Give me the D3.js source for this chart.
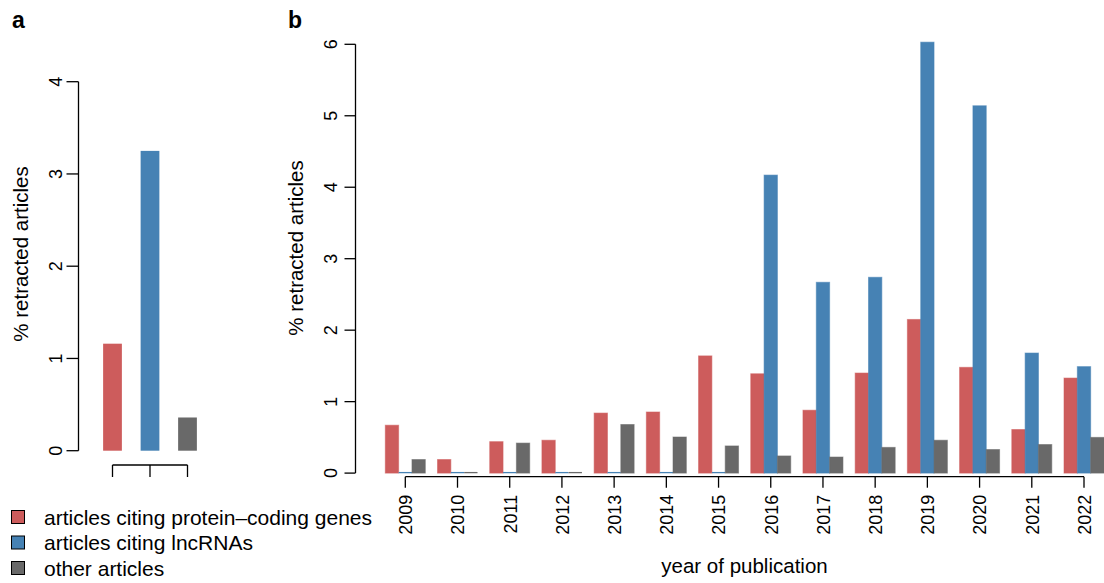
<!DOCTYPE html>
<html>
<head>
<meta charset="utf-8">
<script src="https://cdn.jsdelivr.net/npm/d3@7"></script>
<style>
  html, body { margin: 0; padding: 0; background: #fff; }
  svg { display: block; font-family: "Liberation Sans", Arial, Helvetica, sans-serif; }
</style>
</head>
<body>
<svg id="fig" width="1104" height="583"></svg>
<script>
// Retraction rates: overall (a) and by year of publication (b)
const groups = ["protein", "lncRNA", "other"];
const groupLabels = ["articles citing protein\u2013coding genes", "articles citing lncRNAs", "other articles"];
const groupColors = ["#CD5C5C", "#4682B4", "#696969"];

// panel a: overall % retracted
const overallValues = [1.16, 3.25, 0.36];

// panel b: % retracted per publication year
const years = ["2009", "2010", "2011", "2012", "2013", "2014", "2015", "2016", "2017", "2018", "2019", "2020", "2021", "2022"];
const proteinByYear = [0.67, 0.19, 0.44, 0.46, 0.84, 0.855, 1.64, 1.39, 0.88, 1.40, 2.15, 1.48, 0.61, 1.33];
const lncRNAByYear  = [0, 0, 0, 0, 0, 0, 0, 4.17, 2.67, 2.74, 6.03, 5.14, 1.68, 1.49];
const otherByYear   = [0.19, 0, 0.42, 0, 0.68, 0.505, 0.38, 0.24, 0.225, 0.36, 0.46, 0.33, 0.40, 0.50];

const ticksA = [0, 1, 2, 3, 4];
const ticksB = [0, 1, 2, 3, 4, 5, 6];

const svg = d3.select("#fig");
const TICK_FS = 18, TITLE_FS = 20.5;

// ---------- panel a ----------
const yA = d3.scaleLinear().domain([0, 4]).range([450.7, 81.7]);
const xA = d3.scaleBand().domain(groups).range([93.75, 206.25]).paddingInner(0.5).paddingOuter(0.25);

const gA = svg.append("g");
gA.selectAll("rect").data(overallValues).join("rect")
  .attr("x", (d, i) => xA(groups[i]))
  .attr("width", xA.bandwidth())
  .attr("y", d => yA(d))
  .attr("height", d => yA(0) - yA(d))
  .attr("fill", (d, i) => groupColors[i]);

// y axis
const axA = gA.append("g").attr("transform", "translate(78.5,0)");
axA.append("line").attr("x1", 0).attr("x2", 0).attr("y1", yA(0)).attr("y2", yA(4))
  .attr("stroke", "#000").attr("stroke-width", 1.3);
axA.selectAll("line.t").data(ticksA).join("line").attr("class", "t")
  .attr("x1", -12).attr("x2", 0).attr("y1", d => yA(d)).attr("y2", d => yA(d))
  .attr("stroke", "#000").attr("stroke-width", 1.3);
axA.selectAll("text").data(ticksA).join("text")
  .attr("transform", d => `translate(-16.5,${yA(d)}) rotate(-90)`)
  .attr("text-anchor", "middle").attr("font-size", TICK_FS).text(d => d);

// bracket x axis (no labels)
const cA = groups.map(g => xA(g) + xA.bandwidth() / 2);
const brA = gA.append("g").attr("transform", "translate(0,465)");
brA.append("line").attr("x1", cA[0]).attr("x2", cA[cA.length - 1]).attr("y1", 0).attr("y2", 0)
  .attr("stroke", "#000").attr("stroke-width", 1.3);
brA.selectAll("line.t").data(cA).join("line").attr("class", "t")
  .attr("x1", d => d).attr("x2", d => d).attr("y1", 0).attr("y2", 12)
  .attr("stroke", "#000").attr("stroke-width", 1.3);

gA.append("text").attr("transform", "translate(28,254) rotate(-90)")
  .attr("text-anchor", "middle").attr("font-size", TITLE_FS).text("% retracted articles");
svg.append("text").attr("x", 12).attr("y", 28).attr("font-size", 23).attr("font-weight", "bold").text("a");

// ---------- panel b ----------
const yB = d3.scaleLinear().domain([0, 6]).range([473.1, 44.3]);
const xB = d3.scalePoint().domain(years).range([405.3, 1084]);
const xInner = d3.scaleBand().domain(groups).range([-20, 20]);
const seriesB = [proteinByYear, lncRNAByYear, otherByYear];

const gB = svg.append("g");
groups.forEach((g, si) => {
  const sg = gB.append("g");
  sg.selectAll("rect").data(seriesB[si]).join("rect")
    .attr("x", (d, i) => xB(years[i]) + xInner(g))
    .attr("width", xInner.bandwidth())
    .attr("y", d => yB(d))
    .attr("height", d => yB(0) - yB(d))
    .attr("fill", groupColors[si])
    .attr("stroke", groupColors[si]).attr("stroke-width", 1).attr("stroke-opacity", 0.55);
  // bars of zero height still show their outline as a flat line
  sg.selectAll("line").data(seriesB[si].map((d, i) => ({ d, i })).filter(o => o.d === 0)).join("line")
    .attr("x1", o => xB(years[o.i]) + xInner(g))
    .attr("x2", o => xB(years[o.i]) + xInner(g) + xInner.bandwidth())
    .attr("y1", yB(0) - 0.5).attr("y2", yB(0) - 0.5)
    .attr("stroke", groupColors[si]).attr("stroke-width", 1.3);
});

// y axis
const axB = gB.append("g").attr("transform", "translate(355.5,0)");
axB.append("line").attr("x1", 0).attr("x2", 0).attr("y1", yB(0)).attr("y2", yB(6))
  .attr("stroke", "#000").attr("stroke-width", 1.3);
axB.selectAll("line.t").data(ticksB).join("line").attr("class", "t")
  .attr("x1", -11).attr("x2", 0).attr("y1", d => yB(d)).attr("y2", d => yB(d))
  .attr("stroke", "#000").attr("stroke-width", 1.3);
axB.selectAll("text").data(ticksB).join("text")
  .attr("transform", d => `translate(-18.5,${yB(d)}) rotate(-90)`)
  .attr("text-anchor", "middle").attr("font-size", TICK_FS).text(d => d);

// x axis
const axX = gB.append("g").attr("transform", "translate(0,476.7)");
axX.append("line").attr("x1", xB(years[0])).attr("x2", xB(years[years.length - 1]))
  .attr("y1", 0).attr("y2", 0).attr("stroke", "#000").attr("stroke-width", 1.3);
axX.selectAll("line.t").data(years).join("line").attr("class", "t")
  .attr("x1", d => xB(d)).attr("x2", d => xB(d)).attr("y1", 0).attr("y2", 11)
  .attr("stroke", "#000").attr("stroke-width", 1.3);
axX.selectAll("text").data(years).join("text")
  .attr("transform", d => `translate(${xB(d) + 6.8},18) rotate(-90)`)
  .attr("text-anchor", "end").attr("font-size", TICK_FS).text(d => d);

gB.append("text").attr("transform", "translate(303,248) rotate(-90)")
  .attr("text-anchor", "middle").attr("font-size", TITLE_FS).text("% retracted articles");
gB.append("text").attr("x", 744.5).attr("y", 573).attr("text-anchor", "middle")
  .attr("font-size", TITLE_FS).text("year of publication");
svg.append("text").attr("x", 288).attr("y", 28).attr("font-size", 23).attr("font-weight", "bold").text("b");

// ---------- legend ----------
const leg = svg.append("g").attr("transform", "translate(11,510)");
const rows = leg.selectAll("g").data(groupLabels).join("g")
  .attr("transform", (d, i) => `translate(0,${i * 25.5})`);
rows.append("rect").attr("x", 0.5).attr("y", 0.5).attr("width", 13).attr("height", 13)
  .attr("fill", (d, i) => groupColors[i]).attr("stroke", "#000").attr("stroke-width", 1);
rows.append("text").attr("x", 33).attr("y", 7).attr("dy", "0.36em")
  .attr("font-size", 21).text(d => d);
</script>
</body>
</html>
